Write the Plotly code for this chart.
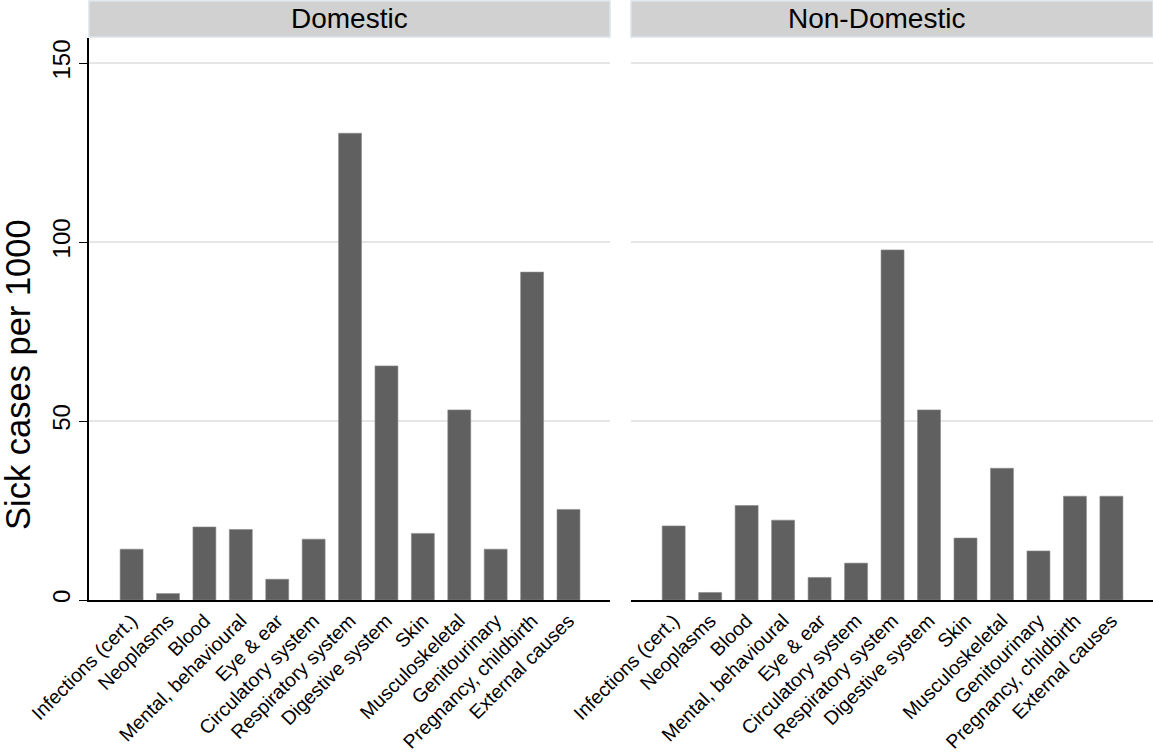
import plotly.graph_objects as go
from plotly.subplots import make_subplots

categories = ["Infections (cert.)", "Neoplasms", "Blood", "Mental, behavioural", "Eye & ear",
              "Circulatory system", "Respiratory system", "Digestive system", "Skin",
              "Musculoskeletal", "Genitourinary", "Pregnancy, childbirth", "External causes"]
domestic = [14.2, 1.8, 20.4, 19.7, 5.8, 17.0, 130.4, 65.4, 18.6, 53.1, 14.2, 91.6, 25.3]
non_domestic = [20.7, 2.1, 26.4, 22.3, 6.3, 10.3, 97.8, 53.1, 17.3, 36.8, 13.7, 29.0, 29.0]
panels = ["Domestic", "Non-Domestic"]
y_title = "Sick cases per 1000"
y_ticks = [0, 50, 100, 150]

FONT = "Liberation Sans, Arial, sans-serif"
BAR = "#606060"

fig = make_subplots(rows=1, cols=2, shared_yaxes=False, horizontal_spacing=0.0)
for i, vals in enumerate([domestic, non_domestic]):
    fig.add_trace(go.Bar(x=categories, y=vals, marker=dict(color=BAR, line=dict(color="#8a8a8a", width=0.6)),
                         width=0.63, showlegend=False), row=1, col=i + 1)

W, H = 1153, 754
ml, mt, mb, mr = 89, 38, 154, 0
pw = W - ml - mr
ph = H - mt - mb
d1 = (610 - ml) / pw
d2 = (631 - ml) / pw
fig.update_layout(
    width=W, height=H,
    margin=dict(l=ml, r=mr, t=mt, b=mb, autoexpand=False),
    paper_bgcolor="white", plot_bgcolor="white",
    font=dict(family=FONT, color="black"),
    xaxis=dict(domain=[0, d1]), xaxis2=dict(domain=[d2, 1]),
)
for ax in ["xaxis", "xaxis2"]:
    fig.layout[ax].update(
        tickangle=-45, tickfont=dict(size=19.5, family=FONT, color="black"),
        showline=True, linecolor="black", linewidth=1.5, ticks="", showgrid=False, automargin=False,
        range=[-1.17, 13.14], categoryorder="array", categoryarray=categories,
    )
fig.update_yaxes(range=[0, 157], tickvals=y_ticks, showgrid=True, gridcolor="#e6e6e6", gridwidth=1.5,
                 zeroline=False, automargin=False)
fig.update_yaxes(row=1, col=1, showline=True, linecolor="black", linewidth=1.5, ticks="outside",
                 ticklen=8, tickcolor="black", tickangle=-90,
                 tickfont=dict(size=24, family=FONT, color="black"))
fig.update_yaxes(row=1, col=2, showticklabels=False, showline=False, ticks="")

fig.add_annotation(text=y_title, textangle=-90, xref="paper", yref="paper", x=0, xshift=-(ml - 18),
                   y=(600 - 375) / ph, xanchor="center", yanchor="middle", showarrow=False,
                   font=dict(size=34.5, family=FONT, color="black"))

ytop = 1 + (mt - 1) / ph
ybot = 1 + 1 / ph
shifts = [0, -16]
for i, (x0, x1) in enumerate([(0, d1), (d2, 1)]):
    fig.add_shape(type="rect", xref="paper", yref="paper", x0=x0, x1=x1, y0=ybot, y1=ytop,
                  fillcolor="#d1d1d1", line=dict(color="#dbe3e8", width=1.5))
    fig.add_annotation(text=panels[i], xref="paper", yref="paper", x=(x0 + x1) / 2, y=(ybot + ytop) / 2,
                       xshift=shifts[i], showarrow=False, font=dict(size=28, family=FONT, color="black"),
                       xanchor="center", yanchor="middle")

fig.write_html("out.html", config={"displayModeBar": False},
               post_script="document.body.style.margin='0px';")
